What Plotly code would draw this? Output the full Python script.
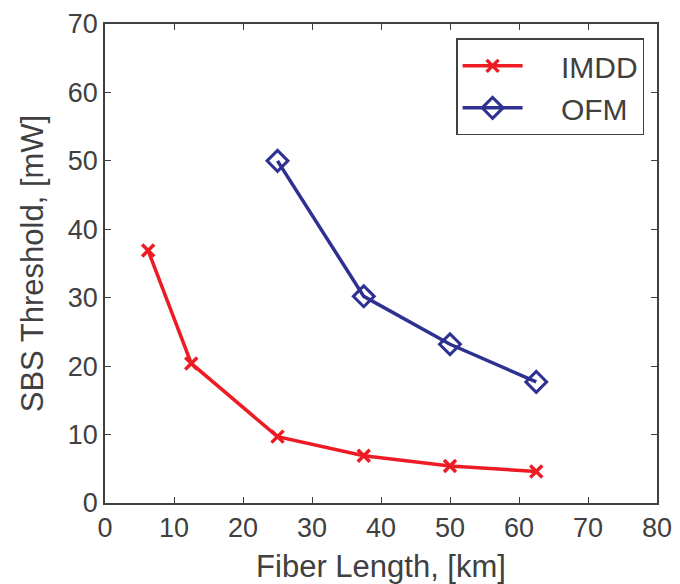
import plotly.graph_objects as go

imdd_x = [6.25, 12.5, 25, 37.5, 50, 62.5]
imdd_y = [36.9, 20.4, 9.7, 6.9, 5.4, 4.6]
ofm_x = [25, 37.5, 50, 62.5]
ofm_y = [50.0, 30.2, 23.2, 17.7]
series_names = ["IMDD", "OFM"]

red = "#ED1C24"
blue = "#2E3192"
grey = "#404040"
pad = "\u00a0" * 4

fig = go.Figure()
fig.add_trace(go.Scatter(
    x=imdd_x, y=imdd_y, name=pad + series_names[0], mode="lines+markers",
    line=dict(color=red, width=3.5),
    marker=dict(symbol="x-thin", size=12, line=dict(color=red, width=3.5), color=red),
))
fig.add_trace(go.Scatter(
    x=ofm_x, y=ofm_y, name=pad + series_names[1], mode="lines+markers",
    line=dict(color=blue, width=3.5),
    marker=dict(symbol="diamond-open", size=16, line=dict(color=blue, width=3), color=blue),
))

axis_common = dict(
    showgrid=False, zeroline=False, showline=True, linecolor=grey, linewidth=1.5,
    mirror="ticks", ticks="inside", ticklen=6, tickcolor=grey, tickwidth=1,
    tickfont=dict(family="Liberation Sans, Arial", size=27, color=grey),
    automargin=False,
)

fig.update_layout(
    width=680, height=584,
    margin=dict(l=105, r=23, t=24, b=81),
    paper_bgcolor="white", plot_bgcolor="white",
    font=dict(family="Liberation Sans, Arial", color=grey),
    xaxis=dict(range=[0, 80], dtick=10,
               title=dict(text="Fiber Length, [km]", font=dict(size=31, color=grey)),
               **axis_common),
    yaxis=dict(range=[0, 70], dtick=10,
               title=dict(text="SBS Threshold, [mW]", font=dict(size=31, color=grey)),
               **axis_common),
    legend=dict(x=0.636, y=0.97, xanchor="left", yanchor="top",
                bordercolor=grey, borderwidth=1.5, bgcolor="white",
                font=dict(size=30, color=grey), itemwidth=60,
                tracegroupgap=0),
    showlegend=True,
)

fig.write_html("out.html")
